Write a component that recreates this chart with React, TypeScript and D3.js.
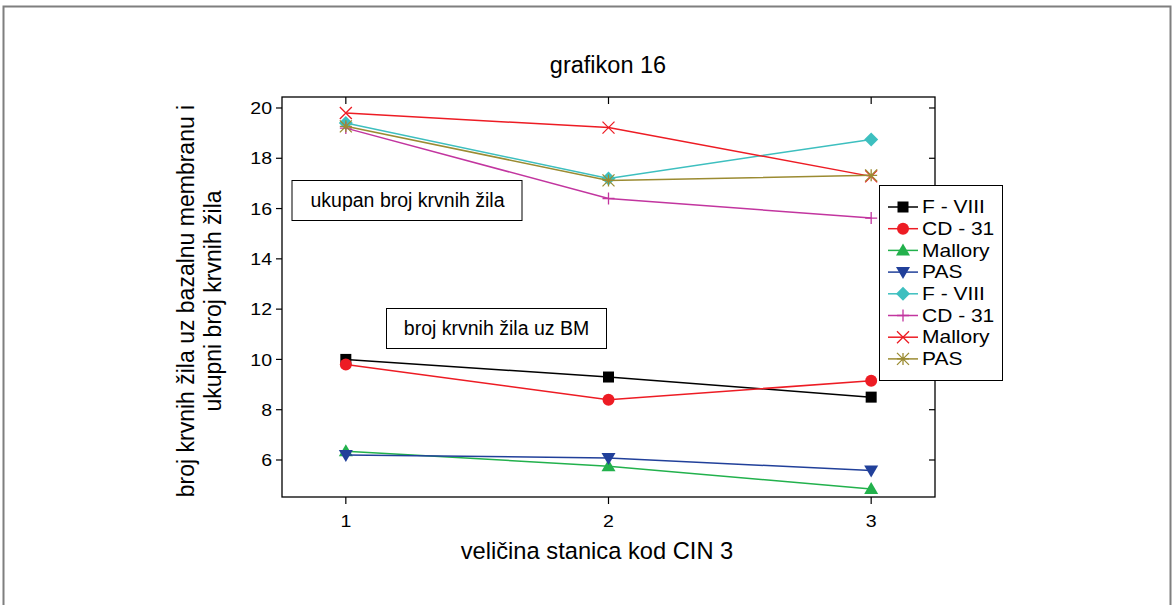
import React from "react";
import * as d3 from "d3";

const categories = [1, 2, 3];
const yTicks = [6, 8, 10, 12, 14, 16, 18, 20];

const fviiiBM = [10.0, 9.3, 8.5];
const cd31BM = [9.8, 8.4, 9.15];
const malloryBM = [6.35, 5.75, 4.85];
const pasBM = [6.2, 6.08, 5.58];
const fviiiTot = [19.4, 17.2, 18.75];
const cd31Tot = [19.2, 16.4, 15.62];
const malloryTot = [19.8, 19.22, 17.28];
const pasTot = [19.27, 17.12, 17.32];

const seriesNames = ["F - VIII", "CD - 31", "Mallory", "PAS", "F - VIII", "CD - 31", "Mallory", "PAS"];
const seriesValues = [fviiiBM, cd31BM, malloryBM, pasBM, fviiiTot, cd31Tot, malloryTot, pasTot];
const seriesColors = ["#000000", "#ed1c24", "#22b14c", "#21409a", "#3dbfbf", "#c2359f", "#ed1c24", "#9b8b32"];
const seriesMarkers = ["square", "circle", "triUp", "triDown", "diamond", "plus", "cross", "star"];

const FONT = "'Liberation Sans', Arial, sans-serif";

function Marker({ type, x, y, color }: { type: string; x: number; y: number; color: string }) {
  const s = 6;
  switch (type) {
    case "square":
      return <rect x={x - 5.5} y={y - 5.5} width={11} height={11} fill={color} />;
    case "circle":
      return <circle cx={x} cy={y} r={6} fill={color} />;
    case "triUp":
      return <path d={`M${x},${y - 7}L${x + 7},${y + 5}L${x - 7},${y + 5}Z`} fill={color} />;
    case "triDown":
      return <path d={`M${x},${y + 7}L${x + 7},${y - 5}L${x - 7},${y - 5}Z`} fill={color} />;
    case "diamond":
      return <path d={`M${x},${y - 7}L${x + 7},${y}L${x},${y + 7}L${x - 7},${y}Z`} fill={color} />;
    case "plus":
      return (
        <path d={`M${x - s},${y}H${x + s}M${x},${y - s}V${y + s}`} stroke={color} strokeWidth={1.3} fill="none" />
      );
    case "cross":
      return (
        <path
          d={`M${x - s},${y - s}L${x + s},${y + s}M${x - s},${y + s}L${x + s},${y - s}`}
          stroke={color}
          strokeWidth={1.3}
          fill="none"
        />
      );
    case "star":
      return (
        <path
          d={`M${x - s},${y - s}L${x + s},${y + s}M${x - s},${y + s}L${x + s},${y - s}M${x - s},${y}H${x + s}M${x},${y - s}V${y + s}`}
          stroke={color}
          strokeWidth={1.3}
          fill="none"
        />
      );
  }
  return null;
}

export default function App() {
  const W = 1172;
  const H = 605;
  const left = 282, right = 935, top = 97, bottom = 497;
  const x = d3.scaleLinear().domain([0.757, 3.243]).range([left, right]);
  const y = d3.scaleLinear().domain([4.528, 20.437]).range([bottom, top]);
  const line = d3
    .line<number>()
    .x((_, i) => x(categories[i]))
    .y((d) => y(d));

  const legX = 879, legY = 185, legW = 123, legH = 195;
  const legStep = 21.7;

  return (
    <svg
      width={W}
      height={H}
      style={{ position: "absolute", left: 0, top: 0, background: "#fff" }}
      fontFamily={FONT}
    >
      <rect x={3.5} y={6.5} width={1167} height={610} fill="none" stroke="#7f7f7f" strokeWidth={2} />
      <text x={608} y={73} textAnchor="middle" fontSize={23.5}>
        grafikon 16
      </text>

      {/* plot frame */}
      <rect x={left} y={top} width={right - left} height={bottom - top} fill="none" stroke="#000" strokeWidth={1.3} />

      {/* y ticks */}
      {yTicks.map((t) => (
        <g key={t}>
          <line x1={left - 6} x2={left} y1={y(t)} y2={y(t)} stroke="#000" strokeWidth={1.2} />
          <line x1={right - 6} x2={right} y1={y(t)} y2={y(t)} stroke="#000" strokeWidth={1.2} />
          <text
            x={left - 10}
            y={y(t)}
            dy="0.36em"
            textAnchor="end"
            fontSize={17}
            transform={`translate(${left - 10},0) scale(1.15,1) translate(${-(left - 10)},0)`}
          >
            {t}
          </text>
        </g>
      ))}
      {/* x ticks */}
      {categories.map((c) => (
        <g key={c}>
          <line x1={x(c)} x2={x(c)} y1={bottom} y2={bottom + 7} stroke="#000" strokeWidth={1.2} />
          <line x1={x(c)} x2={x(c)} y1={top} y2={top + 7} stroke="#000" strokeWidth={1.2} />
          <text
            x={x(c)}
            y={bottom + 30}
            textAnchor="middle"
            fontSize={17}
            transform={`translate(${x(c)},0) scale(1.15,1) translate(${-x(c)},0)`}
          >
            {c}
          </text>
        </g>
      ))}

      {/* axis titles */}
      <text x={597} y={559} textAnchor="middle" fontSize={23.7}>
        veličina stanica kod CIN 3
      </text>
      <g transform="translate(194,301) rotate(-90)">
        <text x={0} y={0} textAnchor="middle" fontSize={23}>
          broj krvnih žila uz bazalnu membranu i
        </text>
        <text x={0} y={27} textAnchor="middle" fontSize={23}>
          ukupni broj krvnih žila
        </text>
      </g>

      {/* annotation boxes */}
      <rect x={292} y={180.5} width={230} height={40} fill="#fff" stroke="#000" strokeWidth={1} />
      <text x={407.5} y={207} textAnchor="middle" fontSize={19.5}>
        ukupan broj krvnih žila
      </text>
      <rect x={386.5} y={308.5} width={220} height={40} fill="#fff" stroke="#000" strokeWidth={1} />
      <text x={496.5} y={335} textAnchor="middle" fontSize={19.5}>
        broj krvnih žila uz BM
      </text>

      {/* series */}
      {seriesValues.map((vals, si) => (
        <g key={si}>
          <path d={line(vals) || ""} fill="none" stroke={seriesColors[si]} strokeWidth={1.5} />
          {vals.map((v, i) => (
            <Marker key={i} type={seriesMarkers[si]} x={x(categories[i])} y={y(v)} color={seriesColors[si]} />
          ))}
        </g>
      ))}

      {/* legend */}
      <rect x={legX + 0.5} y={legY + 0.5} width={legW} height={legH} fill="#fff" stroke="#000" strokeWidth={1} />
      {seriesNames.map((n, i) => {
        const ly = 207 + i * legStep;
        return (
          <g key={i}>
            <line x1={888} x2={918} y1={ly} y2={ly} stroke={seriesColors[i]} strokeWidth={1.5} />
            <Marker type={seriesMarkers[i]} x={903} y={ly} color={seriesColors[i]} />
            <text
              x={922}
              y={ly}
              dy="0.36em"
              fontSize={17.5}
              transform={`translate(922,0) scale(1.2,1) translate(-922,0)`}
            >
              {n}
            </text>
          </g>
        );
      })}
    </svg>
  );
}
